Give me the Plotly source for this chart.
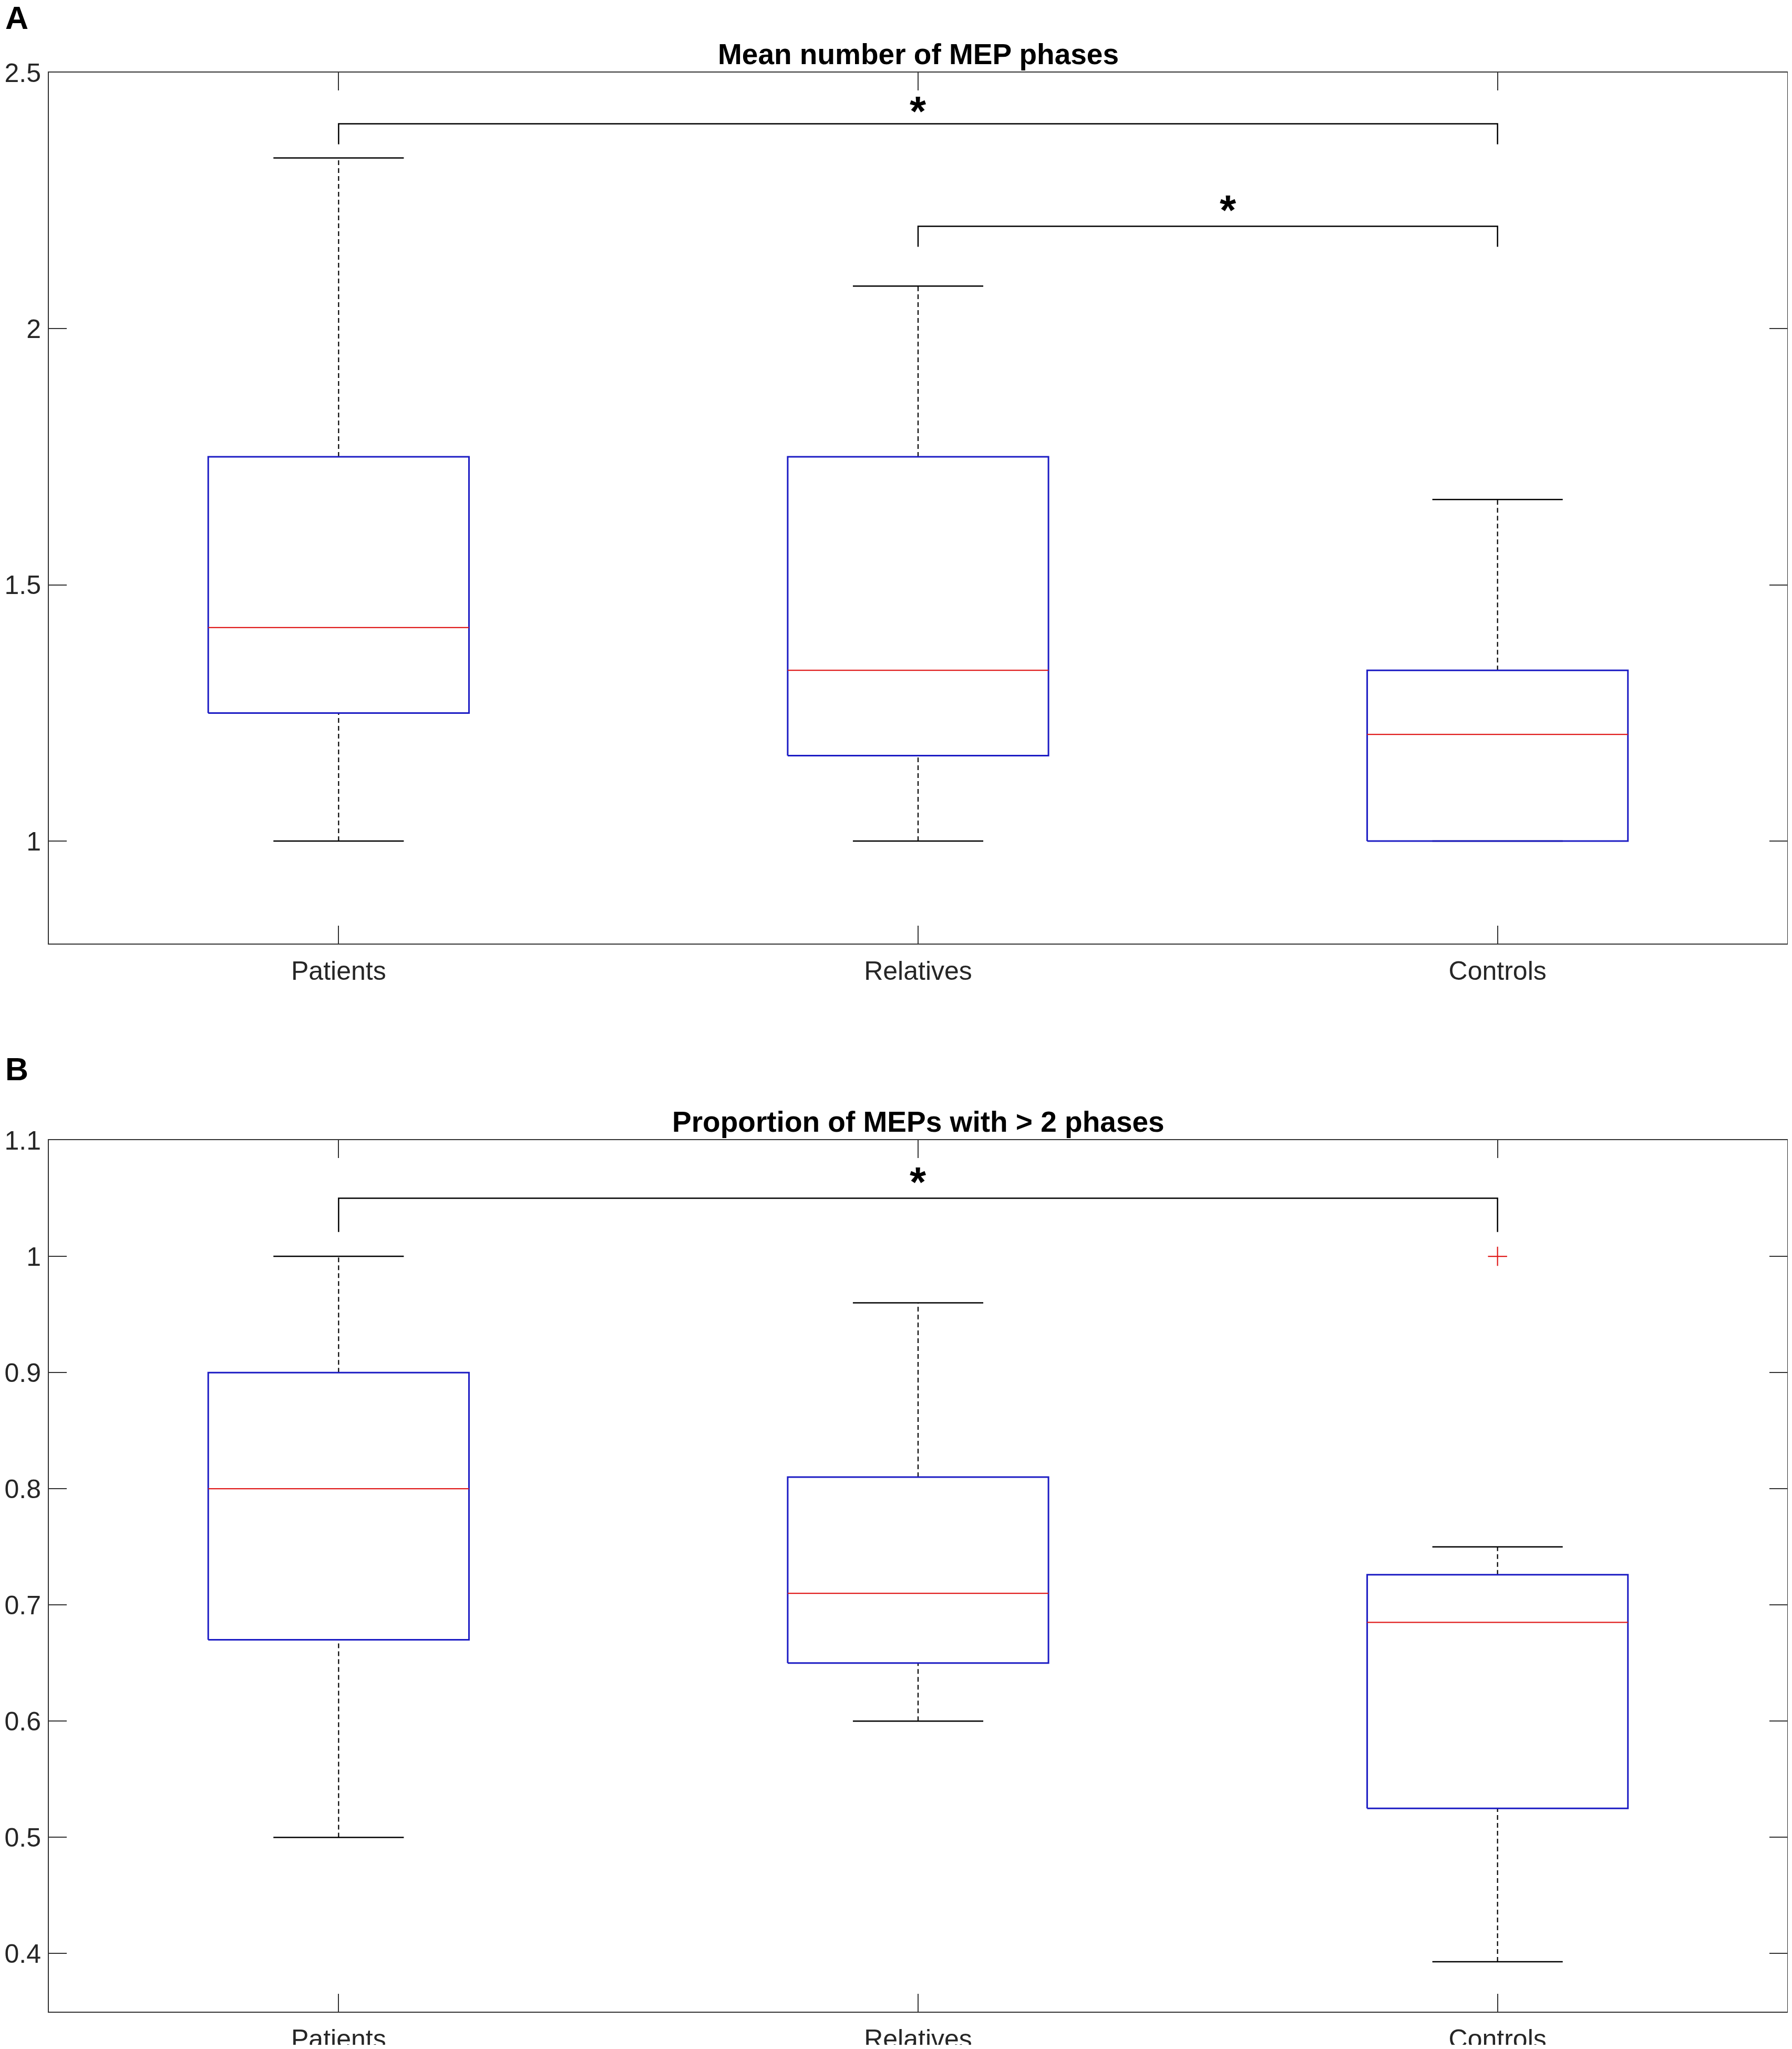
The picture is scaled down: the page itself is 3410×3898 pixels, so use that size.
import plotly.graph_objects as go

# groups on the x axis
groups = ["Patients", "Relatives", "Controls"]
positions = [1, 2, 3]

# Panel A - mean number of MEP phases (box statistics)
a_lower = [1.0, 1.0, 1.0]
a_q1 = [1.25, 1.1667, 1.0]
a_median = [1.4167, 1.3333, 1.2083]
a_q3 = [1.75, 1.75, 1.3333]
a_upper = [2.3333, 2.0833, 1.6667]
a_outliers = [[], [], []]
a_tickvals = [1, 1.5, 2, 2.5]
a_ticktext = ["1", "1.5", "2", "2.5"]
a_range = [0.8, 2.5]
# significance brackets
a_sig_from = [1, 2]
a_sig_to = [3, 3]
a_sig_level = [2.4, 2.2]
a_sig_drop = [2.36, 2.16]
a_star_x = [2.0, 2.535]

# Panel B - proportion of MEPs with > 2 phases
b_lower = [0.5, 0.6, 0.393]
b_q1 = [0.67, 0.65, 0.525]
b_median = [0.8, 0.71, 0.685]
b_q3 = [0.9, 0.81, 0.726]
b_upper = [1.0, 0.96, 0.75]
b_outliers = [[], [], [1.0]]
b_tickvals = [0.4, 0.5, 0.6, 0.7, 0.8, 0.9, 1.0, 1.1]
b_ticktext = ["0.4", "0.5", "0.6", "0.7", "0.8", "0.9", "1", "1.1"]
b_range = [0.35, 1.1]
b_sig_from = [1]
b_sig_to = [3]
b_sig_level = [1.05]
b_sig_drop = [1.021]
b_star_x = [2.0]

# page is 3410x3898, the html body keeps an 8px margin
W, H = 3410 - 16, 3898 - 16
OFF = 8
BOX_HW = 0.225
CAP_HW = 0.1125
AXIS_COL = "#333333"
BLUE = "#1c1cc4"
RED = "#e01c1c"
FONT = "Liberation Sans"

fig = go.Figure()


def line(xs, ys, xa, ya, color, width, dash="solid"):
    fig.add_trace(go.Scatter(
        x=xs, y=ys, xaxis=xa, yaxis=ya, mode="lines",
        line=dict(color=color, width=width, dash=dash),
        hoverinfo="skip", showlegend=False))


def draw_panel(xa, ya, lower, q1, med, q3, upper, outliers,
               sig_from, sig_to, sig_level, sig_drop, star_x, star_shift):
    for p, lo, a, m, b, up, outs in zip(positions, lower, q1, med, q3, upper, outliers):
        # dashed whiskers
        line([p, p], [b, up], xa, ya, "black", 2.2, "9px,6px")
        line([p, p], [lo, a], xa, ya, "black", 2.2, "9px,6px")
        # caps
        line([p - CAP_HW, p + CAP_HW], [up, up], xa, ya, "black", 2.5)
        line([p - CAP_HW, p + CAP_HW], [lo, lo], xa, ya, "black", 2.5)
        # box
        line([p - BOX_HW, p + BOX_HW, p + BOX_HW, p - BOX_HW, p - BOX_HW],
             [a, a, b, b, a], xa, ya, BLUE, 3)
        # median
        line([p - BOX_HW, p + BOX_HW], [m, m], xa, ya, RED, 2.2)
        if outs:
            fig.add_trace(go.Scatter(
                x=[p] * len(outs), y=outs, xaxis=xa, yaxis=ya, mode="markers",
                marker=dict(symbol="cross-thin", size=26,
                            line=dict(color=RED, width=2.2)),
                hoverinfo="skip", showlegend=False))
    for f, t, lev, d, sx, sh in zip(sig_from, sig_to, sig_level, sig_drop, star_x, star_shift):
        line([f, f, t, t], [d, lev, lev, d], xa, ya, "black", 2.5)
        fig.add_annotation(x=sx, y=lev, xref=xa, yref=ya, text="<b>*</b>",
                           showarrow=False, yanchor="bottom", yshift=sh,
                           font=dict(family=FONT, size=80, color="black"))


draw_panel("x", "y", a_lower, a_q1, a_median, a_q3, a_upper, a_outliers,
           a_sig_from, a_sig_to, a_sig_level, a_sig_drop, a_star_x, [-23, -16])
draw_panel("x2", "y2", b_lower, b_q1, b_median, b_q3, b_upper, b_outliers,
           b_sig_from, b_sig_to, b_sig_level, b_sig_drop, b_star_x, [-15])

x_dom = [(93 - OFF) / W, (3401 - OFF) / W]
a_dom = [1 - (1795 - OFF) / H, 1 - (138 - OFF) / H]
b_dom = [1 - (3827 - OFF) / H, 1 - (2169 - OFF) / H]

common_x = dict(range=[0.5, 3.5], tickvals=positions, ticktext=groups,
                showline=True, linecolor=AXIS_COL, linewidth=2, mirror="ticks",
                ticks="inside", ticklen=34, tickwidth=2, tickcolor=AXIS_COL,
                showgrid=False, zeroline=False, ticklabelstandoff=7,
                automargin=False,
                tickfont=dict(family=FONT, size=50, color="#262626"),
                domain=x_dom)
common_y = dict(showline=True, linecolor=AXIS_COL, linewidth=2, mirror="ticks",
                ticks="inside", ticklen=34, tickwidth=2, tickcolor=AXIS_COL,
                showgrid=False, zeroline=False, ticklabelstandoff=3,
                automargin=False,
                tickfont=dict(family=FONT, size=50, color="#262626"))

fig.update_layout(
    template="none",
    width=W, height=H, autosize=False,
    margin=dict(l=0, r=0, t=0, b=0, pad=0),
    paper_bgcolor="white", plot_bgcolor="white",
    showlegend=False,
    xaxis=dict(common_x, anchor="y"),
    yaxis=dict(common_y, range=a_range, tickvals=a_tickvals, ticktext=a_ticktext,
               domain=a_dom, anchor="x"),
    xaxis2=dict(common_x, anchor="y2"),
    yaxis2=dict(common_y, range=b_range, tickvals=b_tickvals, ticktext=b_ticktext,
                domain=b_dom, anchor="x2"),
)

# panel titles
titles = ["Mean number of MEP phases", "Proportion of MEPs with &gt; 2 phases"]
for ref, txt in zip(["", "2"], titles):
    fig.add_annotation(x=0.5, y=1, xref="x%s domain" % ref, yref="y%s domain" % ref,
                       text="<b>%s</b>" % txt, showarrow=False, yanchor="bottom",
                       yshift=2, font=dict(family=FONT, size=55, color="black"))

# panel letters
letters = ["A", "B"]
letter_y = [1 + 10 / H, 1 - 1990 / H]
for lt, ly in zip(letters, letter_y):
    fig.add_annotation(x=0, y=ly, xref="paper", yref="paper", text="<b>%s</b>" % lt,
                       showarrow=False, xanchor="left", yanchor="top",
                       font=dict(family=FONT, size=61, color="black"))

fig.write_html("out.html")
